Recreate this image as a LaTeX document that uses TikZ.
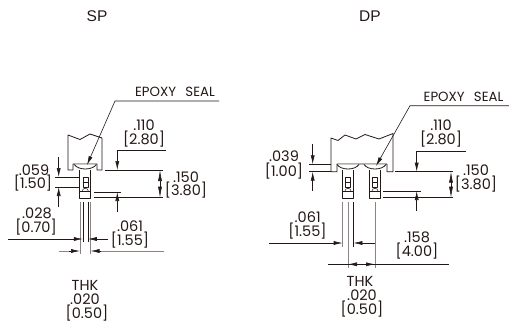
\documentclass[tikz,border=0pt]{standalone}
\usepackage{fontspec}
\setmainfont{Poppins}
\newfontfamily\hdfont{Liberation Sans}
\usetikzlibrary{arrows.meta}
\definecolor{ink}{HTML}{231815}
\definecolor{pin}{HTML}{8A8483}
\tikzset{x=1pt,y=-1pt,
 outl/.style={draw=ink,line width=.8pt,line join=round},
 dimen/.style={draw=ink,line width=.6pt},
 gray line/.style={draw=pin,line width=.9pt},
 tip/.style={-{Latex[length=9pt,width=4pt]}},
 lab/.style={font=\fontsize{14.5}{15}\selectfont,text=ink,inner sep=0pt,anchor=center},
 slab/.style={font=\fontsize{13.3}{14}\selectfont,text=ink,inner sep=0pt,anchor=center},
 hlab/.style={font=\hdfont\fontsize{15.5}{16}\selectfont,text=ink,inner sep=0pt,anchor=center}}
\newcommand{\pinshape}[1]{%
\begin{scope}[shift={(#1,0)}]
 \draw[outl] (-5.5,170)--(-5.5,198.5)--(5.5,198.5)--(5.5,170);
 \draw[outl,line width=.5pt] (-2.5,177) rectangle (2.5,187);
 \draw[outl,line width=.5pt] (-2.5,182)--(2.5,182);
 \draw[outl,line width=.5pt] (-5.5,191)--(5.5,191);
 \draw[outl,line width=.5pt] (-3,191) arc[start angle=180,end angle=0,x radius=3,y radius=-2.7];
 \draw[outl,fill=white] (-11,164.5) .. controls (-7,170.5) and (7,170.5) .. (11,164.5);
\end{scope}}
\begin{document}
\begin{tikzpicture}
\useasboundingbox (0,0) rectangle (509,324);
\node[hlab] (sp) at (97,16) {SP};
\node[hlab] (dp) at (370,16) {DP};
% SP body
\draw[outl] (73,164)--(73,170)--(68,170)--(68,135)--(80,139.5)--(90,134)--(102,138)--(102,170)--(97,170)--(97,164)--cycle;
\pinshape{85.3}
\coordinate (a1) at (87,165);
\coordinate (a2) at (115,101);
\coordinate (a3) at (219,101);
\draw[dimen,tip] (a3)--(a2)--(a1);
\node[slab] (e1) at (175,92) {EPOXY\hspace{.7em}SEAL};
% SP pins below
\foreach \x/\e in {80/254,90.5/254}{\draw[gray line] (\x,202)--(\x,\e);}
\foreach \x/\e in {82.8/242,87.8/242}{\draw[dimen] (\x,202)--(\x,\e);}
% SP dims
\draw[dimen,tip] (58.7,157)--(58.7,177);
\draw[dimen,tip] (58.7,207)--(58.7,187);
\draw[dimen] (55,177)--(80,177) (55,187)--(80,187);
\draw[dimen] (166,150)--(117.3,150);
\draw[dimen,tip] (117.3,150)--(117.3,170);
\draw[dimen,tip] (117.3,212)--(117.3,192);
\draw[dimen] (105,170)--(163,170) (94,192)--(121,192) (94,197.7)--(163,197.7);
\draw[dimen,{Latex[length=11pt,width=4pt]}-{Latex[length=11pt,width=4pt]}] (160,170)--(160,197.7);
\draw[dimen,tip] (8,239)--(82.8,239);
\draw[dimen,tip] (108,239)--(87.8,239);
\draw[gray line] (59,251)--(70,251) (100,251)--(164,251);
\draw[dimen,tip] (69,251)--(80,251);
\draw[dimen,tip] (101,251)--(90.5,251);
\node[lab] at (34,170) {.059};
\node[lab] at (33,183) {[1.50]};
\node[lab] at (144,125) {.110};
\node[lab] at (144,139) {[2.80]};
\node[lab] at (186,177) {.150};
\node[lab] at (186,190) {[3.80]};
\node[lab] at (37,213) {.028};
\node[lab] at (36,227) {[0.70]};
\node[lab] at (130,226) {.061};
\node[lab] at (130,240) {[1.55]};
\node[lab] at (85,285) {THK};
\node[lab] at (85,299) {.020};
\node[lab] at (87,313) {[0.50]};
% DP body
\draw[outl] (337,164)--(337,171.7)--(331,171.7)--(331,138)--(338,140.5)--(345,135)--(356,139)--(365,134.5)--(379,139)--(393,133.5)--(393,171.7)--(387,171.7)--(387,164)--cycle;
\pinshape{348}
\pinshape{375}
\draw[dimen,tip] (509,105.7)--(410,105.7)--(376,166);
\node[slab] at (463.5,97) {EPOXY\hspace{.7em}SEAL};
% DP pins below
\draw[gray line] (342.7,202)--(342.7,246.7);
\draw[gray line] (348,202)--(348,268);
\draw[dimen] (353.3,202)--(353.3,246.7);
\draw[gray line] (375,202)--(375,268);
% DP dims
\draw[dimen,tip] (312.7,144)--(312.7,164.3);
\draw[dimen,tip] (312.7,191)--(312.7,171.7);
\draw[dimen] (309,164.3)--(331,164.3) (309,171.7)--(331,171.7);
\draw[dimen] (466,151)--(416.7,151);
\draw[dimen,tip] (416.7,151)--(416.7,171.7);
\draw[dimen,tip] (416.7,211)--(416.7,191);
\draw[dimen] (395,171.7)--(453,171.7) (383,191)--(420.7,191) (383,197.7)--(453,197.7);
\draw[dimen,{Latex[length=11pt,width=4pt]}-{Latex[length=11pt,width=4pt]}] (451,171.7)--(451,197.7);
\draw[dimen,tip] (269,243)--(342.7,243);
\draw[dimen,tip] (375,243)--(353.3,243);
\draw[dimen] (328,264.3)--(449,264.3);
\draw[dimen,tip] (359,264.3)--(348,264.3);
\draw[dimen,tip] (365,264.3)--(375,264.3);
\node[lab] at (284,156) {.039};
\node[lab] at (284,170.7) {[1.00]};
\node[lab] at (441,125) {.110};
\node[lab] at (441,139) {[2.80]};
\node[lab] at (476,170) {.150};
\node[lab] at (476,184) {[3.80]};
\node[lab] at (307.7,216.7) {.061};
\node[lab] at (307.5,230.7) {[1.55]};
\node[lab] at (417,237) {.158};
\node[lab] at (417,251) {[4.00]};
\node[lab] at (360,281) {THK};
\node[lab] at (362,295) {.020};
\node[lab] at (362,309) {[0.50]};
\end{tikzpicture}
\end{document}
